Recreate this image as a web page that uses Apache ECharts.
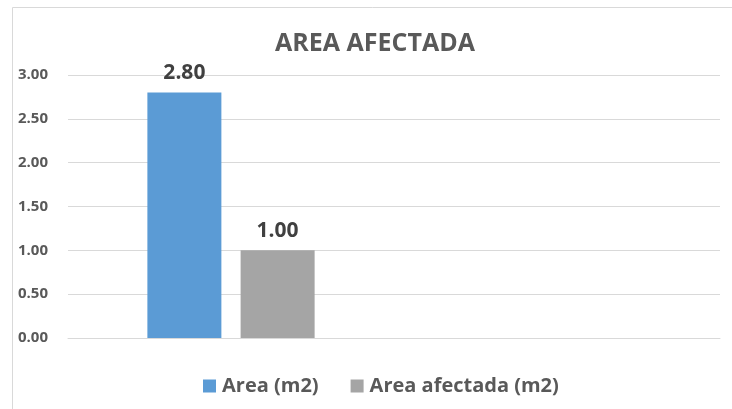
<!DOCTYPE html>
<html>
<head>
<meta charset="utf-8">
<script src="https://cdn.jsdelivr.net/npm/echarts@6/dist/echarts.min.js"></script>
<style>
  html, body { margin: 0; padding: 0; background: #fff; }
  #chart { width: 732px; height: 409px; }
</style>
</head>
<body>
<div id="chart"></div>
<script>
// data
const categories = ['', '']
const areaValues = [2.8, null]
const afectadaValues = [1.0, null]
const seriesNames = ['Area (m2)', 'Area afectada (m2)']
const yTicks = { min: 0, max: 3, interval: 0.5 }

const FONT = '"Open Sans"'
const chart = echarts.init(document.getElementById('chart'))

const labelStyle = {
  show: true,
  position: 'top',
  distance: 9,
  fontFamily: FONT,
  fontWeight: 'bold',
  fontSize: 21,
  color: '#404040',
  formatter: p => p.value == null ? '' : p.value.toFixed(2)
}

const options = {
  animation: false,
  textStyle: { fontFamily: FONT },
  color: ['#5B9BD5', '#A5A5A5'],
  graphic: [
    {
      type: 'rect',
      shape: { x: 12.5, y: 7.5, width: 760, height: 440 },
      style: { fill: 'none', stroke: '#d9d9d9', lineWidth: 1 },
      silent: true,
      z: -1
    }
  ],
  title: {
    text: 'AREA AFECTADA',
    left: 370,
    textAlign: 'center',
    top: 26,
    textStyle: { fontFamily: FONT, fontWeight: 'bold', fontSize: 25, color: '#595959' }
  },
  legend: {
    data: seriesNames,
    left: 198,
    top: 371,
    icon: 'rect',
    itemWidth: 13,
    itemHeight: 13,
    itemGap: 32,
    textStyle: { fontFamily: FONT, fontWeight: 'bold', fontSize: 20, color: '#595959', padding: [0, 0, 0, 1] }
  },
  grid: { left: 68, right: 12, top: 75, bottom: 71, containLabel: false },
  xAxis: {
    type: 'category',
    data: categories,
    axisLine: { lineStyle: { color: '#d9d9d9' } },
    axisTick: { show: false },
    axisLabel: { show: false }
  },
  yAxis: {
    type: 'value',
    min: yTicks.min,
    max: yTicks.max,
    interval: yTicks.interval,
    axisLine: { show: false },
    axisTick: { show: false },
    splitLine: { lineStyle: { color: '#d9d9d9' } },
    axisLabel: {
      margin: 20,
      fontFamily: FONT,
      fontWeight: 'bold',
      fontSize: 15,
      color: '#595959',
      formatter: v => v.toFixed(2)
    }
  },
  series: [
    {
      name: seriesNames[0],
      type: 'bar',
      data: areaValues,
      barWidth: 74,
      barGap: '26%',
      label: labelStyle
    },
    {
      name: seriesNames[1],
      type: 'bar',
      data: afectadaValues,
      barWidth: 74,
      label: labelStyle
    }
  ]
}
chart.setOption(options)
</script>
</body>
</html>
